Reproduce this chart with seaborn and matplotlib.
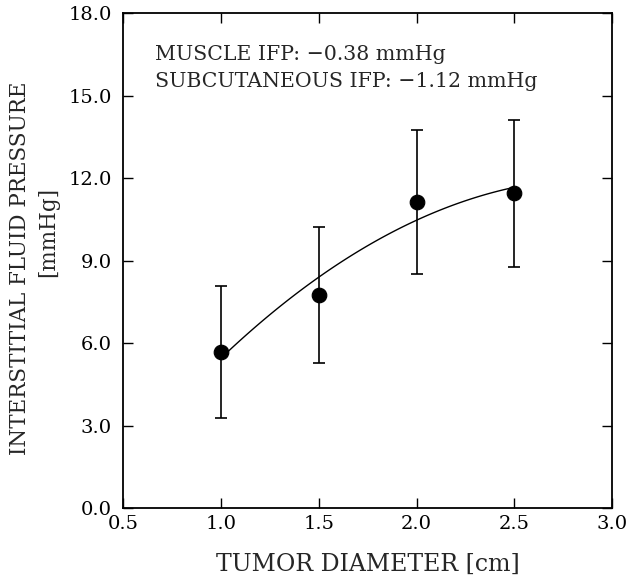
import matplotlib
matplotlib.use("Agg")
import matplotlib.pyplot as plt
import seaborn as sns
import numpy as np
import pandas as pd

# tumor diameter [cm] and mean IFP [mmHg] with error bar half-widths
diameter = [1.0, 1.5, 2.0, 2.5]
ifp_mean = [5.67, 7.74, 11.13, 11.45]
ifp_err = [2.40, 2.48, 2.62, 2.67]

x_ticks = [0.5, 1.0, 1.5, 2.0, 2.5, 3.0]
y_ticks = [0.0, 3.0, 6.0, 9.0, 12.0, 15.0, 18.0]

note = "MUSCLE IFP: \u22120.38 mmHg\nSUBCUTANEOUS IFP: \u22121.12 mmHg"


def main():
    sns.set_style("ticks")
    plt.rcParams['font.family'] = ['DejaVu Serif']
    df = pd.DataFrame({"diameter": diameter, "ifp": ifp_mean, "err": ifp_err})

    fig = plt.figure(figsize=(6.28, 5.76), dpi=100)
    ax = fig.add_axes([0.196, 0.118, 0.779, 0.859])

    # quadratic fit through the means
    sns.regplot(x="diameter", y="ifp", data=df, order=2, ci=None, scatter=False,
                ax=ax, color="black", line_kws={"linewidth": 1.0})
    ax.errorbar(df["diameter"], df["ifp"], yerr=df["err"], fmt="none",
                ecolor="black", elinewidth=1.2, capsize=4, capthick=1.2)
    sns.scatterplot(x="diameter", y="ifp", data=df, ax=ax, color="black",
                    s=110, edgecolor="black", zorder=5)

    ax.set_xlim(0.5, 3.0)
    ax.set_ylim(0.0, 18.0)
    ax.set_xticks(x_ticks)
    ax.set_yticks(y_ticks)
    ax.set_xticklabels(["%.1f" % v for v in x_ticks])
    ax.set_yticklabels(["%.1f" % v for v in y_ticks])
    ax.tick_params(axis='both', which='major', direction='in', length=7,
                   width=1.0, labelsize=14, top=True, right=True, pad=8,
                   colors="black")
    ax.tick_params(axis='x', pad=5)
    for s in ax.spines.values():
        s.set_linewidth(1.3)
        s.set_color("black")

    ax.set_xlabel("TUMOR DIAMETER [cm]", fontsize=17, labelpad=14)
    ax.set_ylabel("")
    # two-line y label, lines placed separately as in the original
    ax.text(-0.211, 0.485, "INTERSTITIAL FLUID PRESSURE", transform=ax.transAxes,
            rotation=90, fontsize=15.5, ha="center", va="center")
    ax.text(-0.153, 0.558, "[mmHg]", transform=ax.transAxes,
            rotation=90, fontsize=15.5, ha="center", va="center")
    ax.text(0.065, 0.935, note, transform=ax.transAxes, fontsize=14.8,
            va="top", ha="left", linespacing=1.5)

    fig.savefig("out.png", dpi=100)


if __name__ == "__main__":
    main()
